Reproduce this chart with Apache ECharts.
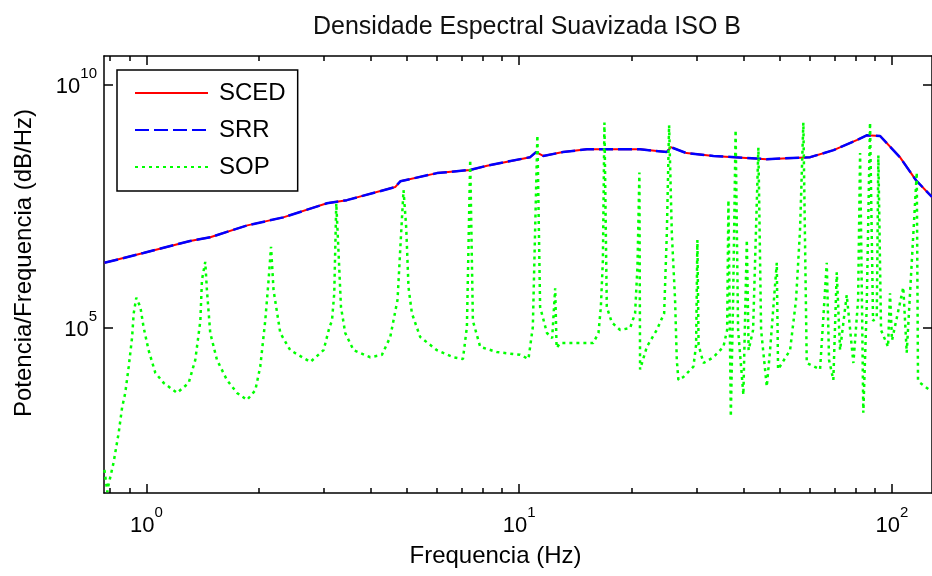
<!DOCTYPE html>
<html>
<head>
<meta charset="utf-8">
<script src="https://cdn.jsdelivr.net/npm/echarts@6/dist/echarts.min.js"></script>
<style>
  html, body { margin: 0; padding: 0; background: #fff; }
  #chart { width: 932px; height: 576px; }
</style>
</head>
<body>
<div id="chart"></div>
<script>
// axis ranges and ticks
const freqRange = [0.77, 128];
const powerRange = [40, 4e10];
const xMajorTicks = [1, 10, 100];
const xMinorTicks = [0.8, 0.9, 2, 3, 4, 5, 6, 7, 8, 9, 20, 30, 40, 50, 60, 70, 80, 90];
const yMajorTicks = [1e5, 1e10];

// SCED (smoothed estimate)
const scedFreq = [0.772, 0.982, 1.31, 1.484, 1.866, 2.33, 3.05, 3.45, 4.65, 4.8, 6.02, 7.39, 8.2, 10.7, 11.1, 11.6,
  13.1, 15.2, 21.1, 24.9, 25.5, 28.1, 33.2, 46.1, 60.3, 69.7, 80.4, 85.5, 92.9, 105, 116, 128];
const scedPower = [2.2e6, 3.5e6, 6.2e6, 7.4e6, 1.3e7, 1.9e7, 3.7e7, 4.3e7, 8.0e7, 1.05e8, 1.55e8, 1.8e8, 2.2e8, 3.3e8, 4.2e8, 3.5e8,
  4.2e8, 4.8e8, 4.8e8, 4.2e8, 5.3e8, 4.0e8, 3.5e8, 3.0e8, 3.3e8, 4.6e8, 7.4e8, 9.3e8, 9.0e8, 3.3e8, 1.1e8, 5.0e7];

// SRR (lies on top of SCED)
const srrFreq = [0.772, 0.982, 1.31, 1.484, 1.866, 2.33, 3.05, 3.45, 4.65, 4.8, 6.02, 7.39, 8.2, 10.7, 11.1, 11.6,
  13.1, 15.2, 21.1, 24.9, 25.5, 28.1, 33.2, 46.1, 60.3, 69.7, 80.4, 85.5, 92.9, 105, 116, 128];
const srrPower = [2.2e6, 3.5e6, 6.2e6, 7.4e6, 1.3e7, 1.9e7, 3.7e7, 4.3e7, 8.0e7, 1.05e8, 1.55e8, 1.8e8, 2.2e8, 3.3e8, 4.2e8, 3.5e8,
  4.2e8, 4.8e8, 4.8e8, 4.2e8, 5.3e8, 4.0e8, 3.5e8, 3.0e8, 3.3e8, 4.6e8, 7.4e8, 9.3e8, 9.0e8, 3.3e8, 1.1e8, 5.0e7];

// SOP (raw periodogram)
const sopFreq = [
  0.772, 0.786, 0.792, 0.817, 0.843, 0.861, 0.878, 0.897, 0.916, 0.925,
  0.940, 0.964, 0.983, 1.014, 1.057, 1.113, 1.209, 1.299, 1.353, 1.396,
  1.410, 1.439, 1.454, 1.484, 1.547, 1.645, 1.751, 1.862, 1.960, 2.021,
  2.084, 2.128, 2.160, 2.194, 2.287, 2.432, 2.753, 2.988, 3.100, 3.147,
  3.192, 3.232, 3.278, 3.327, 3.416, 3.595, 3.986, 4.284, 4.510, 4.718,
  4.817, 4.896, 4.977, 5.049, 5.156, 5.428, 6.017, 6.667, 7.066, 7.241,
  7.390, 7.514, 7.860, 8.713, 10.06, 10.59, 10.88, 11.19, 11.38, 11.87,
  12.26, 12.49, 12.60, 12.88, 15.79, 16.32, 16.56, 16.77, 16.93, 17.18,
  17.72, 18.66, 19.84, 20.46, 20.76, 21.01, 21.10, 22.00, 23.39, 24.48,
  24.89, 25.24, 25.67, 26.19, 26.47, 26.73, 27.57, 29.33, 29.82, 30.06,
  30.28, 31.20, 33.19, 35.30, 36.12, 36.41, 36.95, 37.48, 38.06, 38.65,
  39.93, 40.36, 40.79, 41.24, 42.40, 43.81, 44.55, 46.14, 47.09, 49.08,
  49.47, 53.28, 55.28, 56.66, 57.83, 59.06, 64.12, 66.83, 67.78, 69.6,
  71.08, 72.55, 75.6, 78.77, 81.1, 82.1, 83.75, 85.52, 87.3, 88.94,
  91.0, 91.9, 93.44, 97.56, 98.76, 100, 107.2, 109.5, 116.5, 117.4,
  118.9, 126.5
];
const sopPower = [
  120, 42, 59, 170, 690, 2300, 4600, 1.6e4, 6.5e4, 2.0e5,
  4.2e5, 2.7e5, 1.05e5, 3.5e4, 1.2e4, 7.4e3, 4.6e3, 7.4e3, 2.2e4, 1.4e5,
  9.8e5, 2.3e6, 6.0e5, 7.9e4, 2.2e4, 8.5e3, 4.6e3, 3.3e3, 5.2e3, 1.6e4,
  1.4e5, 9.8e5, 4.7e6, 6.0e5, 7.9e4, 3.5e4, 2.0e4, 3.5e4, 1.05e5, 1.4e5,
  5.2e5, 3.7e7, 3.5e6, 2.7e5, 7.9e4, 3.5e4, 2.5e4, 2.8e4, 6.5e4, 3.8e5,
  7.4e6, 6.9e7, 1.2e7, 6.9e5, 2.0e5, 6.5e4, 3.5e4, 2.5e4, 2.3e4, 1.05e5,
  2.9e8, 1.4e5, 4.1e4, 3.2e4, 2.8e4, 2.3e4, 1.05e5, 9.3e8, 2.7e5, 7.9e4,
  6.2e4, 6.6e5, 3.9e4, 4.9e4, 4.9e4, 7.9e4, 2.7e5, 2.5e6, 1.7e9, 2.7e5,
  1.3e5, 9.1e4, 1.0e5, 2.0e5, 1.8e6, 1.6e8, 1.4e4, 4.1e4, 9.1e4, 2.0e5,
  8.9e6, 1.5e9, 8.9e6, 3.8e5, 2.2e4, 8.5e3, 9.8e3, 1.6e4, 4.5e4, 6.5e6,
  4.5e4, 1.9e4, 2.5e4, 4.1e4, 9.1e4, 4.3e7, 1.5e3, 3.8e5, 1.2e9, 9.1e4,
  4.2e3, 4.6e3, 6.5e6, 3.5e4, 9.1e4, 5.2e8, 9.1e4, 6.2e3, 3.5e4, 2.2e6,
  1.4e4, 3.5e4, 3.8e5, 1.05e7, 1.7e9, 1.9e4, 1.4e4, 2.2e6, 2.2e4, 8.5e3,
  1.4e6, 3.5e4, 4.8e5, 1.9e4, 3.8e5, 4.0e8, 1.8e3, 2.7e5, 1.7e9, 1.4e5,
  1.7e5, 3.6e8, 9.1e4, 4.1e4, 5.2e5, 5.6e4, 6.9e5, 3.1e4, 1.6e8, 8.5e3,
  7.4e3, 5.2e3
];

const fontFamily = "'Liberation Sans', Arial, sans-serif";
const pairs = (xs, ys) => xs.map((x, i) => [x, ys[i]]);

// "10" with a raised exponent, like MATLAB's log tick labels
function powLabel(margin) {
  return {
    fontFamily: fontFamily,
    color: '#000',
    margin: margin,
    padding: [0, 0, 6, 0],
    formatter: (v) => '{b|10}{sup|' + Math.round(Math.log10(v)) + '}',
    rich: {
      b: { fontSize: 22, lineHeight: 32, verticalAlign: 'bottom', fontFamily: fontFamily, color: '#000' },
      sup: { fontSize: 15, lineHeight: 15, verticalAlign: 'top', fontFamily: fontFamily, color: '#000' }
    }
  };
}

function freqAxis(position, ticks, tickLength, showLine, label) {
  return {
    type: 'log',
    logBase: 10,
    position: position,
    min: freqRange[0],
    max: freqRange[1],
    axisLine: { show: showLine, onZero: false, lineStyle: { color: '#000', width: 1.5 } },
    axisTick: { show: true, inside: true, length: tickLength, customValues: ticks, lineStyle: { color: '#000', width: 1.5 } },
    axisLabel: label ? Object.assign({ customValues: ticks }, label) : { show: false },
    splitLine: { show: false },
    axisPointer: { show: false }
  };
}

function powerAxis(position, label) {
  return {
    type: 'log',
    logBase: 10,
    position: position,
    min: powerRange[0],
    max: powerRange[1],
    axisLine: { show: true, onZero: false, lineStyle: { color: '#000', width: 1.5 } },
    axisTick: { show: true, inside: true, length: 9, customValues: yMajorTicks, lineStyle: { color: '#000', width: 1.5 } },
    axisLabel: label ? Object.assign({ customValues: yMajorTicks }, label) : { show: false },
    splitLine: { show: false }
  };
}

const xBottom = freqAxis('bottom', xMajorTicks, 9, true, powLabel(12));
xBottom.name = 'Frequencia (Hz)';
xBottom.nameLocation = 'middle';
xBottom.nameGap = 51;
xBottom.nameTextStyle = { fontSize: 24, fontFamily: fontFamily, color: '#000', padding: [0, 45, 0, 0] };

const yLeft = powerAxis('left', powLabel(7));
yLeft.name = 'Potencia/Frequencia (dB/Hz)';
yLeft.nameLocation = 'middle';
yLeft.nameGap = 68;
yLeft.nameTextStyle = { fontSize: 24, fontFamily: fontFamily, color: '#000', padding: [0, 0, 0, 23] };

const chart = echarts.init(document.getElementById('chart'), null, { renderer: 'canvas' });

const option = {
  backgroundColor: '#fff',
  animation: false,
  title: {
    text: 'Densidade Espectral Suavizada ISO B',
    left: 308,
    top: 10,
    textStyle: { fontSize: 25, fontWeight: 'normal', fontFamily: fontFamily, color: '#111' }
  },
  legend: {
    data: ['SCED', 'SRR', 'SOP'],
    orient: 'vertical',
    left: 117,
    top: 70,
    itemWidth: 73,
    itemHeight: 24,
    itemGap: 13,
    padding: [11, 12, 12, 17],
    backgroundColor: '#fff',
    borderColor: '#000',
    borderWidth: 1.5,
    borderRadius: 0,
    itemStyle: { opacity: 0 },
    textStyle: { fontSize: 24, fontFamily: fontFamily, color: '#000', padding: [0, 0, 0, 6] }
  },
  grid: { left: 104, right: -3, top: 56, bottom: 83, containLabel: false },
  xAxis: [
    xBottom,
    freqAxis('bottom', xMinorTicks, 5, false, null),
    freqAxis('top', xMajorTicks, 9, true, null),
    freqAxis('top', xMinorTicks, 5, false, null)
  ],
  yAxis: [yLeft, powerAxis('right', null)],
  series: [
    {
      name: 'SCED',
      type: 'line',
      data: pairs(scedFreq, scedPower),
      symbol: 'none',
      color: '#ff0000',
      lineStyle: { color: '#ff0000', width: 2 }
    },
    {
      name: 'SRR',
      type: 'line',
      data: pairs(srrFreq, srrPower),
      symbol: 'none',
      color: '#0000ff',
      lineStyle: { color: '#0000ff', width: 2.5, type: [14, 5] }
    },
    {
      name: 'SOP',
      type: 'line',
      data: pairs(sopFreq, sopPower),
      symbol: 'none',
      color: '#00ff00',
      lineStyle: { color: '#00ff00', width: 2.5, type: [3, 4] }
    }
  ]
};

chart.setOption(option);
</script>
</body>
</html>
